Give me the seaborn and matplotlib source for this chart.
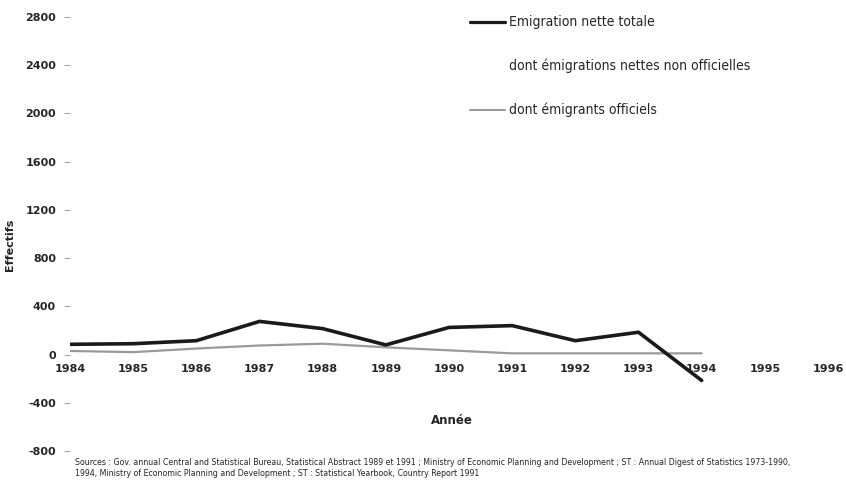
import matplotlib
matplotlib.use("Agg")
import matplotlib.pyplot as plt
import seaborn as sns
import pandas as pd

# Yearly net emigration figures
years = [1984, 1985, 1986, 1987, 1988, 1989, 1990, 1991, 1992, 1993, 1994]
total_net = [85, 90, 115, 275, 215, 80, 225, 240, 115, 185, -215]
official = [30, 20, 50, 75, 90, 60, 35, 10, 10, 10, 10]
unofficial = [t - o for t, o in zip(total_net, official)]

label_total = "Emigration nette totale"
label_unofficial = "dont émigrations nettes non officielles"
label_official = "dont émigrants officiels"

x_ticks = list(range(1984, 1997))
y_ticks = [-800, -400, 0, 400, 800, 1200, 1600, 2000, 2400, 2800]

df = pd.DataFrame({
    "Année": years * 3,
    "Effectifs": unofficial + official + total_net,
    "serie": [label_unofficial] * len(years) + [label_official] * len(years)
             + [label_total] * len(years),
})

sns.set_theme(style="white")
plt.rcParams["font.family"] = ["DejaVu Sans"]

fig = plt.figure(figsize=(8.46, 4.98), dpi=100)
ax = fig.add_axes([70 / 846, 1 - 451 / 498, (828 - 70) / 846, (451 - 17) / 498])

# x axis runs along the zero line
for s in ax.spines.values():
    s.set_visible(False)
ax.spines["bottom"].set_position(("data", 0))

palette = {label_total: "#1a1a1a", label_unofficial: "#ffffff", label_official: "#9a9a9a"}
sizes = {label_total: 2.6, label_unofficial: 1.0, label_official: 1.6}
sns.lineplot(data=df, x="Année", y="Effectifs", hue="serie", size="serie",
             hue_order=[label_unofficial, label_official, label_total],
             palette=palette, sizes=sizes, ax=ax, legend=False)

ax.set_xlim(1984, 1996)
ax.set_ylim(-800, 2800)
ax.set_xticks(x_ticks)
ax.set_yticks(y_ticks)
ax.set_yticklabels([str(v) for v in y_ticks], fontsize=8, fontweight="semibold")
ax.set_xticklabels([str(v) for v in x_ticks], fontsize=8, fontweight="semibold")

ax.tick_params(axis="x", length=0, pad=7)
ax.tick_params(axis="y", length=4, color="#aaaaaa", width=0.8, pad=6, left=True)
ax.set_xlabel("")
ax.set_ylabel("")

fig.text(10 / 846, 1 - 245 / 498, "Effectifs", rotation=90, ha="center", va="center",
         fontsize=8, fontweight="bold")
fig.text(452 / 846, 1 - 420 / 498, "Année", ha="center", va="center",
         fontsize=8.5, fontweight="bold")

# Legend drawn by hand so that each row sits at its own height
leg_rows = [(label_total, 22), (label_unofficial, 66), (label_official, 110)]
for lab, ypix in leg_rows:
    yf = 1 - ypix / 498
    if lab != label_unofficial:
        fig.add_artist(plt.Line2D([470 / 846, 505 / 846], [yf, yf],
                                  color=palette[lab], lw=sizes[lab] * 0.9,
                                  transform=fig.transFigure))
    fig.text(509 / 846, yf, lab, ha="left", va="center", fontsize=10,
             fontstretch="condensed")

source_1 = ("Sources : Gov. annual Central and Statistical Bureau, Statistical Abstract 1989 et 1991 ; "
            "Ministry of Economic Planning and Development ; ST : Annual Digest of Statistics 1973-1990,")
source_2 = "1994, Ministry of Economic Planning and Development ; ST : Statistical Yearbook, Country Report 1991"
fig.text(75 / 846, 1 - 462 / 498, source_1, ha="left", va="center", fontsize=5.7)
fig.text(75 / 846, 1 - 473 / 498, source_2, ha="left", va="center", fontsize=5.7)

fig.savefig("out.png", dpi=100)
